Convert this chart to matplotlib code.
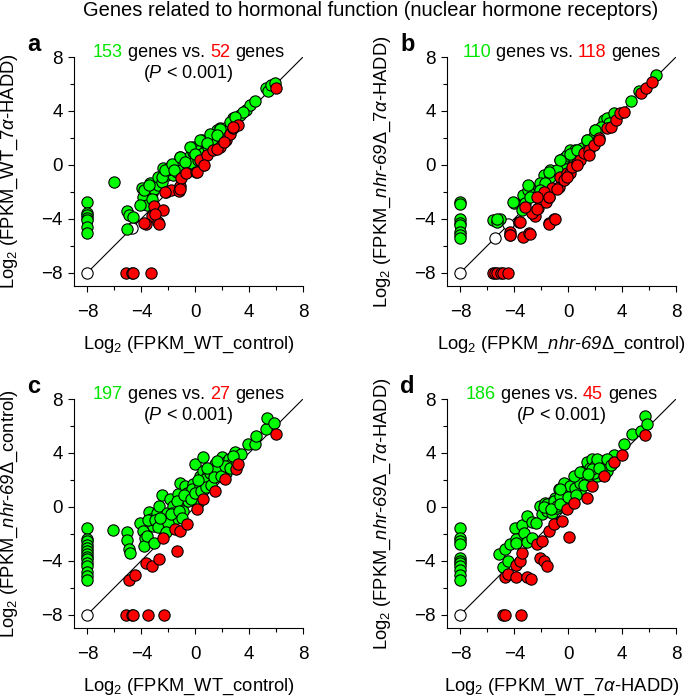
import matplotlib
matplotlib.use("Agg")
import matplotlib.pyplot as plt
from matplotlib.offsetbox import TextArea, HPacker, AnnotationBbox

plt.rcParams['font.family'] = ['Liberation Sans', 'DejaVu Sans']
plt.rcParams['mathtext.fontset'] = 'custom'
plt.rcParams['mathtext.rm'] = 'Liberation Sans'
plt.rcParams['mathtext.it'] = 'Liberation Sans:italic'
# \mathbf is used only for the italic gene name (digits stay italic that way)
plt.rcParams['mathtext.bf'] = 'Liberation Sans:italic'

# ---- data (log2 FPKM) ----
# panel a
a_green_x = [-8, -8, -8, -8, -8, -8, -8, -6.05, -5.1, -4.9, -4.65, -5.1,
             -3.98, -3.85, -3.6, -4.1, -3.36, -3.23, -3.06, -2.74, -2.37, -2.12, -1.88, -1.88,
             -1.63, -1.5, -1.14, -1.02, -0.77, -0.52, -0.44, -0.15, -0.15, 0.1, 0.35, 0.47,
             0.72, 1.09, 1.33, 1.58, 1.83, 2.07, 2.2, 2.81, 3.06, 3.31, 3.8, 4.05, 4.42, 5.28,
             5.4, 5.65, 5.9, -2.74, -2.49, -2.12, -1.38, -1.02, -0.64, -0.27, 0.22, 0.6, 0.97,
             1.33, 1.7, 2.32, 2.57, 3.56,
             -3.83, -3.46, -3.21, -2.47, -2.22, -1.73, -1.11, -0.37, 0.37, 1.11, 1.85, 2.59,
             2.96, -1.6, -0.74, 0.0, 0.87, 1.6]
a_green_y = [-2.8, -3.6, -3.7, -3.95, -4.1, -4.6, -5.05, -1.3, -3.4, -3.75, -3.9, -4.8,
             -1.75, -2.37, -3.0, -3.0, -1.38, -2.12, -1.8, -1.5, -0.26, -0.76, -0.14, -0.64,
             -0.76, -0.01, 0.6, 0.1, 0.36, -0.14, 0.6, 0.98, 1.35, 0.73, 1.1, 1.85,
             1.6, 1.72, 2.1, 2.6, 2.71, 2.47, 2.71, 3.46, 3.46, 3.7, 4.08, 4.45, 4.7, 5.7,
             5.45, 5.94, 6.06, -0.88, -1.25, -0.39, -0.51, -0.39, -0.5, 0.1, 0.36, 0.85, 1.35,
             1.6, 2.2, 2.47, 2.84, 3.95,
             -1.9, -1.52, -2.51, -0.9, -0.41, 0.09, 0.58, 1.33, 1.82, 2.32, 2.69, 3.19,
             3.56, -0.41, 0.21, 0.83, 1.58, 2.2]
a_red_x = [-5.15, -4.7, -4.6, -3.25, -3.06, -3.23, -3.68, -3.8, -2.74, -2.37, -2.2, -1.83,
           -1.19, -1.14, -1.02, -0.72, 0.05, 0.6, 0.35, 0.84, 1.33, 1.83, 2.27, 2.57, 2.81,
           3.18, 6.02, -2.22, -1.11, 0.12, 0.62, 1.6, 2.1, 2.84, -2.96, -2.72]
a_red_y = [-8, -8, -8, -8, -3.04, -3.8, -4.43, -4.3, -4.26, -3.36, -2.0, -1.88,
           -1.93, -1.55, -1.0, -0.64, -0.5, 0.0, 0.36, 0.73, 1.1, 1.3, 1.85, 2.3, 2.7,
           2.96, 5.7, -2.02, -1.77, -0.53, -0.04, 1.2, 1.7, 2.82, -3.63, -4.37]
a_open_x = [-8, -4.7]
a_open_y = [-8, -4.7]

# panel b
b_green_x = [-8, -8, -8, -8, -8, -8, -8, -8, -5.56, -5.06, -5.31, -4.02, -3.37, -3.2,
             -2.95, -2.83, -2.2, -1.83, -1.38, -1.33, -0.59, -0.46, -0.29, -0.09, 0.28, 0.41,
             0.78, 1.03, 1.4, 1.53, 2.02, 2.65, 2.9, 3.02, 3.39, 4.64, 5.26, 6.5,
             -2.08, -1.71, -0.84, 0.16, 0.53, 1.9, 2.4,
             -2.96, -2.08, -1.46, -0.59, 0.16, 0.66, 1.4, 2.02, -4.07, -3.45, -5.31]
b_green_y = [-2.8, -2.88, -3.99, -4.36, -4.48, -4.98, -5.23, -5.42, -4.1, -3.99, -4.23, -2.82,
             -2.25, -2.87, -1.88, -2.37, -1.63, -0.76, -0.88, -0.39, 0.36, -0.01, 0.48, 0.73,
             0.85, 0.48, 1.1, 1.23, 1.85, 1.47, 2.59, 3.33, 3.46, 3.09, 3.83, 4.7, 5.44, 6.68,
             -1.38, -1.38, -0.39, 1.1, 1.1, 2.1, 2.84,
             -1.52, -1.9, -0.53, 0.34, 0.83, 1.08, 1.82, 2.57, -2.77, -3.38, -4.0]
b_red_x = [-5.56, -5.44, -5.26, -5.01, -4.82, -4.44, -4.32, -4.32, -3.62, -3.37, -2.88,
           -2.45, -2.28, -2.08, -2.7, -1.63, -1.46, -1.46, -1.08, -1.21, -0.71, -0.59, -0.34,
           -0.09, 0.16, 0.28, 0.66, 0.86, 1.15, 1.53, 1.9, 2.27, 2.9, 3.14, 3.52, 3.84,
           4.14, 5.38, 5.76, 6.25, -1.78, -2.33,
           -3.2, -2.33, -1.46, -0.84, -0.09, 0.66, 1.52, 2.27, -3.57, -4.32, -2.83, -1.46,
           -0.96]
b_red_y = [-8, -8, -8, -8, -8, -8, -4.98, -5.23, -4.23, -5.35, -5.05,
           -3.79, -3.24, -2.57, -3.61, -2.79, -2.37, -4.36, -3.99, -1.75, -1.63, -0.88, -1.13,
           -0.64, -0.64, -0.14, 0.11, 0.36, 0.85, 1.1, 1.47, 1.97, 2.71, 2.84, 3.33, 3.83,
           3.95, 5.32, 5.69, 6.11, -2.0, -2.37,
           -3.14, -3.26, -2.39, -1.77, -0.9, -0.04, 0.71, 1.82, -4.25, -5.24, -5.12, -4.37,
           -4.0]
b_open_x = [-8, -5.45, -4.45]
b_open_y = [-8, -5.4, -4.4]

# panel c
c_green_x = [-8] * 14 + [
    -6.07, -5.09, -5.09, -4.89, -4.84, -4.1, -3.85, -3.73, -3.8, -3.6, -3.4, -3.28,
    -3.06, -2.86, -2.67, -2.49, -2.37, -2.12, -1.88, -1.63, -1.51, -1.26, -1.14, -1.01,
    -0.89, -0.77, -0.64, -0.52, -0.4, -0.15, -0.02, 0.1, 0.22, 0.35, 0.59, 0.59, 0.84,
    0.96, 1.09, 1.33, 1.46, 1.58, 1.7, 1.83, 1.95, 2.07, 2.32, 2.52, 2.69, 2.94, 3.19,
    3.93, 4.42, 4.49, 5.23, 5.36, 5.83, -3.11, -1.75, -1.38, -0.27, 0.35, 0.72, 1.09,
    1.58, 2.32,
    -3.5, -3.0, -2.8, -2.0, -1.8, -1.2, -0.8, -0.3, 0.0, 0.4, 0.8, 1.2, 1.4, 1.9, 2.2,
    2.6, 3.0, 3.4, -2.2, -1.0, 0.2, 0.9, 1.6, 2.8, -2.6]
c_green_y = [-1.6, -2.42, -2.55, -2.87, -3.04, -3.29, -3.54, -3.72, -3.91, -4.16, -4.41,
             -4.85, -5.15, -5.4,
             -1.75, -1.88, -2.5, -3.12, -3.46, -1.23, -1.8, -2.3, -2.92, -2.17, -0.36, -0.93,
             -2.67, -0.44, 0.06, 0.85, -1.68, -0.44, 0.56, 0.06, -0.93, 0.93, 1.8, 0.31,
             -0.31, 1.55, 1.05, 0.43, 0.8, 1.67, 3.16, 1.3, 0.31, 2.29, 3.66, 2.66, 1.8,
             2.42, 1.92, 2.79, 3.16, 2.29, 2.91, 3.41, 3.66, 3.04, 3.29, 3.53, 3.16, 4.03, 3.78,
             4.65, 4.65, 5.27, 5.77, 6.56, 6.21, -1.43, -0.44, 0.43, 1.3, 1.55, 2.04, 2.54,
             2.79, 2.54,
             -1.0, -1.0, -1.5, -1.2, -0.5, -0.3, 0.9, 0.6, 1.0, 1.2, 1.5, 1.6, 2.2, 2.3, 3.0,
             2.9, 3.4, 3.9, -1.9, -0.8, 2.0, 2.9, 3.4, 3.8, -0.8]
c_red_x = [-5.14, -4.72, -4.6, -3.48, -2.32, -4.89, -4.47, -3.68, -3.23, -2.67, -1.38,
           -2.37, -1.51, -1.14, -0.64, 0.1, 0.59, 1.46, 2.2, 3.01, 3.19, 6.02]
c_red_y = [-8, -8, -8, -8, -8, -5.4, -5.03, -4.16, -4.41, -3.86, -3.29,
           -2.3, -1.68, -1.8, -1.31, -0.14, 0.6, 1.18, 2.04, 2.84, 3.16, 5.39]
c_open_x = [-8]
c_open_y = [-8]

# panel d
d_green_x = [-8] * 11 + [
    -5.11, -4.69, -4.87, -4.44, -4.32, -3.95, -3.87, -3.87, -3.45, -3.32, -3.07, -3.07,
    -2.7, -2.7, -2.08, -1.95, -1.71, -1.58, -1.38, -1.21, -0.96, -0.84, -0.71, -0.46,
    -0.29, -0.14, 0.03, 0.28, 0.41, 0.66, 0.86, 1.03, 1.15, 1.4, 1.45, 1.65, 1.78, 2.02,
    2.15, 2.52, 2.65, 2.9, 3.02, 3.39, 4.14, 4.76, 5.38, 5.68, 5.88,
    -1.58, -1.08, -0.59, 0.16, 0.53, 0.91, 1.9, 2.4,
    0.41, 1.28, 2.15, 2.9, -0.59, 0.16, -0.84,
    -1.8, -1.3, -0.6, 0.0, 0.6, 1.2, 1.8, 2.3, 3.2, -2.4, 0.9, 1.5]
d_green_y = [-1.55, -2.3, -2.55, -2.8, -3.79, -4.04, -4.21, -4.41, -4.71, -5.03, -5.4,
             -3.54, -3.17, -4.46, -4.04, -2.79, -1.6, -2.42, -2.67, -1.36, -1.93, -0.68, -2.62,
             -1.11, -2.3, 0.06, -0.56, 0.31, -0.31, 0.26, -0.44, 0.68, -0.06, 1.3, 0.93,
             1.8, 0.43, 1.3, 0.93, 1.8, 2.04, 1.18, 2.29, 2.67, 3.29, 1.92, 2.91, 3.53, 3.04,
             2.29, 3.41, 3.16, 2.67, 3.16, 3.83, 4.65, 5.39, 5.64, 6.76, 6.14,
             0.18, 0.43, 0.8, 1.55, 1.43, 1.8, 2.54, 2.91,
             2.29, 2.42, 3.53, 3.53, 1.3, 0.43, 0.06,
             0.0, -0.2, 0.2, 0.7, 0.9, 1.6, 2.8, 2.9, 3.1, -1.2, 2.6, 2.4]
d_red_x = [-4.87, -4.69, -3.52, -4.69, -4.44, -3.87, -3.87, -3.57, -3.07, -2.78, -3.45,
           -2.33, -1.95, -2.08, -1.83, -1.58, 0.03, -1.46, -1.08, -0.46, -0.09, 0.41, 1.4,
           1.78, 2.65, 3.39, 4.01, 5.68]
d_red_y = [-8, -8, -8, -5.18, -4.98, -5.18, -4.31, -4.04, -5.18, -5.35, -3.41,
           -2.74, -2.55, -3.79, -4.04, -4.41, -2.25, -1.79, -1.31, -1.06, -0.19, 0.31, 0.68,
           1.55, 2.29, 3.29, 3.83, 5.32]
d_open_x = [-8]
d_open_y = [-8]

GREEN = '#00ff00'
GREEN_TXT = '#00e600'
RED = '#ff0000'

fig = plt.figure(figsize=(6.85, 6.99), dpi=100)


def add_panel(rect, letter, gx, gy, rx, ry, ox, oy, n_up, n_down, show_p, xlab, ylab):
    ax = fig.add_axes(rect)
    ax.plot([-8, 8], [-8, 8], color='black', lw=0.8, zorder=1)
    ax.scatter(gx, gy, s=66, c=GREEN, edgecolors='black', linewidths=0.8, zorder=3)
    ax.scatter(rx, ry, s=66, c=RED, edgecolors='black', linewidths=0.8, zorder=3)
    ax.scatter(ox, oy, s=66, facecolors='white', edgecolors='black', linewidths=0.8, zorder=2)
    ax.set_xlim(-9, 8)
    ax.set_ylim(-9, 8)
    ax.set_xticks([-8, -4, 0, 4, 8])
    ax.set_yticks([-8, -4, 0, 4, 8])
    ax.set_xticks([-6, -2, 2, 6], minor=True)
    ax.set_yticks([-6, -2, 2, 6], minor=True)
    ax.spines['top'].set_visible(False)
    ax.spines['right'].set_visible(False)
    ax.tick_params(which='major', direction='out', length=4, width=0.8, labelsize=13.5)
    ax.tick_params(axis='x', which='major', pad=9)
    ax.tick_params(axis='y', which='major', pad=4)
    ax.tick_params(which='minor', direction='out', length=3, width=0.8)
    ax.set_xlabel(xlab, fontsize=13.2)
    ax.set_ylabel(ylab, fontsize=13.2)
    ax.xaxis.set_label_coords(0.5, -0.212)
    ax.yaxis.set_label_coords(-0.235, 0.5)

    # coloured gene counts above the panel
    tp = dict(size=13)
    parts = [TextArea(str(n_up), textprops=dict(color=GREEN_TXT, **tp)),
             TextArea("genes vs.", textprops=dict(color='black', **tp)),
             TextArea(str(n_down), textprops=dict(color=RED, **tp)),
             TextArea("genes", textprops=dict(color='black', **tp))]
    box = HPacker(children=parts, align='baseline', pad=0, sep=3.6)
    ab = AnnotationBbox(box, (0.5, 1.02), xycoords='axes fraction', frameon=False,
                        box_alignment=(0.5, 0.5), pad=0, annotation_clip=False)
    ax.add_artist(ab)
    if show_p:
        ax.text(0.5, 0.93, r'($\it{P}$ < 0.001)', transform=ax.transAxes,
                ha='center', va='center', fontsize=13)
    ax.text(-0.205, 1.026, letter, transform=ax.transAxes, ha='left', va='baseline',
            fontsize=17, fontweight='bold')
    return ax


wa = 229 / 685
ha = 229 / 699
gene = r'$\mathbf{nhr}$-$\mathbf{69}$Δ'
add_panel([74 / 685, 1 - 286 / 699, wa, ha], 'a',
          a_green_x, a_green_y, a_red_x, a_red_y, a_open_x, a_open_y, 153, 52, True,
          r'Log$_2$ (FPKM_WT_control)', r'Log$_2$ (FPKM_WT_7$\alpha$-HADD)')
add_panel([447 / 685, 1 - 286 / 699, wa, ha], 'b',
          b_green_x, b_green_y, b_red_x, b_red_y, b_open_x, b_open_y, 110, 118, False,
          r'Log$_2$ (FPKM_' + gene + '_control)',
          r'Log$_2$ (FPKM_' + gene + r'_7$\alpha$-HADD)')
add_panel([74 / 685, 1 - 628 / 699, wa, ha], 'c',
          c_green_x, c_green_y, c_red_x, c_red_y, c_open_x, c_open_y, 197, 27, True,
          r'Log$_2$ (FPKM_WT_control)', r'Log$_2$ (FPKM_' + gene + '_control)')
add_panel([447 / 685, 1 - 628 / 699, wa, ha], 'd',
          d_green_x, d_green_y, d_red_x, d_red_y, d_open_x, d_open_y, 186, 45, True,
          r'Log$_2$ (FPKM_WT_7$\alpha$-HADD)',
          r'Log$_2$ (FPKM_' + gene + r'_7$\alpha$-HADD)')

fig.text(371 / 685, 1 - 10 / 699, 'Genes related to hormonal function (nuclear hormone receptors)',
         ha='center', va='center', fontsize=14.5)

fig.savefig('out.png', dpi=100)
